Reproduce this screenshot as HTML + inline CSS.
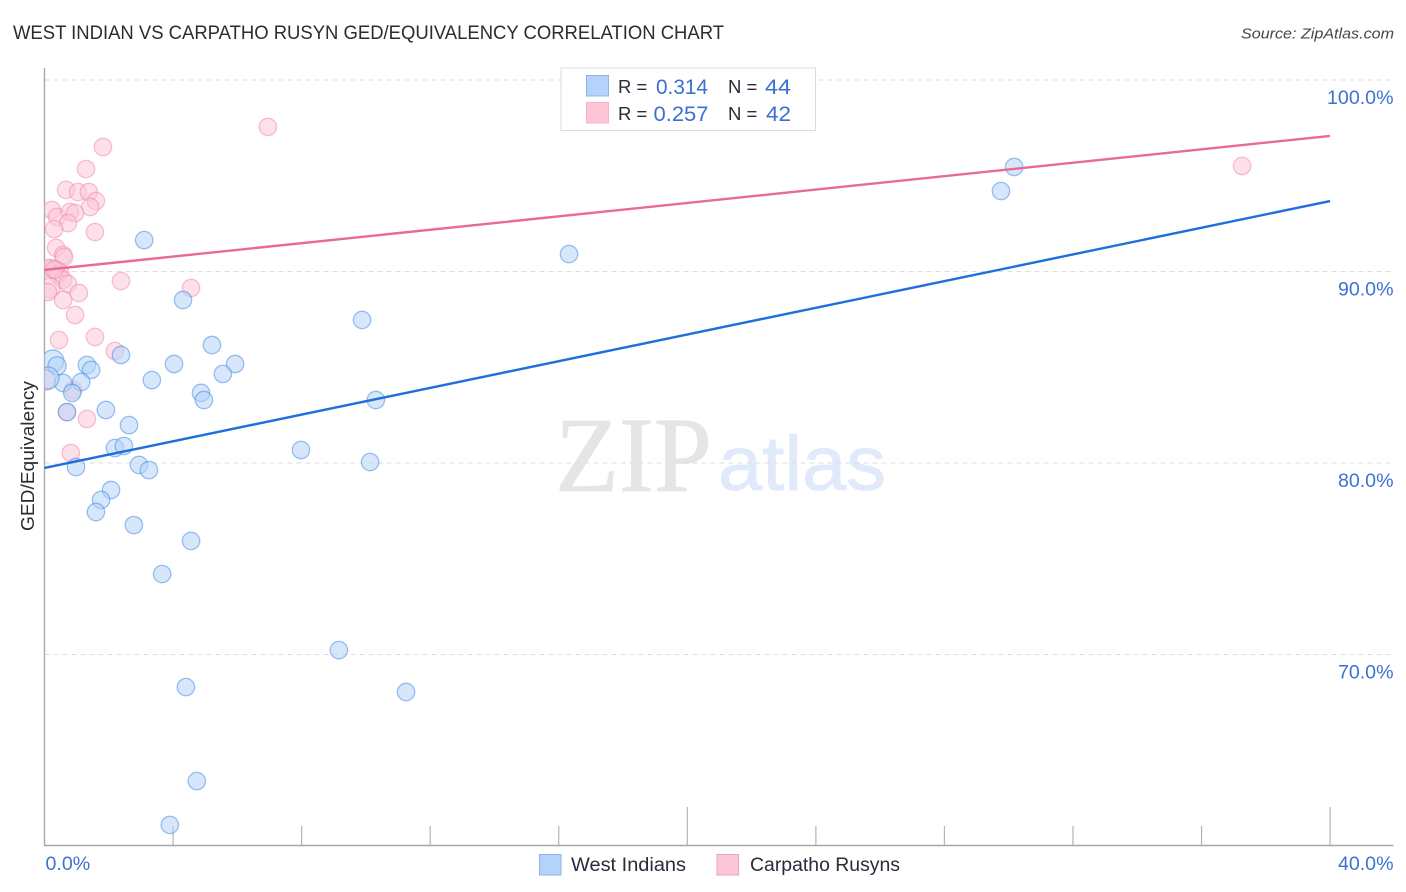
<!DOCTYPE html>
<html lang="en">
<head>
<meta charset="utf-8">
<title>West Indian vs Carpatho Rusyn GED/Equivalency Correlation Chart</title>
<style>
html,body{margin:0;padding:0;background:#fff;}
body{width:1406px;height:892px;overflow:hidden;font-family:"Liberation Sans",sans-serif;}
svg{display:block;}
text{font-family:"Liberation Sans",sans-serif;}
</style>
</head>
<body>
<svg id="chart" width="1406" height="892" viewBox="0 0 1406 892" xmlns="http://www.w3.org/2000/svg">
  <defs>
    <clipPath id="plot-clip"><rect x="44.5" y="60" width="1350" height="785"/></clipPath>
  </defs>
  <rect x="0" y="0" width="1406" height="892" fill="#ffffff"/>
  <text x="13" y="39" font-size="19" fill="#2b2b33" textLength="711" lengthAdjust="spacingAndGlyphs">WEST INDIAN VS CARPATHO RUSYN GED/EQUIVALENCY CORRELATION CHART</text>
  <text x="1394" y="38.5" font-size="15" font-style="italic" fill="#444450" text-anchor="end" textLength="153" lengthAdjust="spacingAndGlyphs">Source: ZipAtlas.com</text>

  <g>
    <text x="555" y="491" font-size="107" fill="#e5e5e5" stroke="#e5e5e5" stroke-width="0.8" textLength="157" lengthAdjust="spacingAndGlyphs" style="font-family:'Liberation Serif',serif">ZIP</text>
    <text x="718" y="490" font-size="77" fill="#e0eafa" stroke="#e0eafa" stroke-width="0.8" textLength="168" lengthAdjust="spacingAndGlyphs">atlas</text>
  </g>

  <g id="grid"></g>
  <g id="axes"></g>
  <g id="marks" clip-path="url(#plot-clip)"></g>
  <g id="trends"></g>

  <text transform="translate(34,456) rotate(-90)" font-size="18" fill="#2b2b33" text-anchor="middle" textLength="150" lengthAdjust="spacingAndGlyphs">GED/Equivalency</text>

  <g>
    <rect x="561" y="68" width="254.5" height="62.5" fill="#ffffff" stroke="#dcdcdc" stroke-width="1"/>
    <rect x="586.5" y="75.5" width="22" height="20.5" fill="#b5d3fa" stroke="#8fb5e6" stroke-width="1"/>
    <rect x="586.5" y="102.5" width="22" height="20.5" fill="#fcc5d8" stroke="#f5b3ca" stroke-width="1"/>
    <text x="618" y="93" font-size="18.5" fill="#2b2b3a">R =</text>
    <text x="656" y="94" font-size="21" fill="#3a70d2" textLength="52" lengthAdjust="spacingAndGlyphs">0.314</text>
    <text x="728" y="93" font-size="18.5" fill="#2b2b3a">N =</text>
    <text x="765" y="94" font-size="21" fill="#3a70d2" textLength="26" lengthAdjust="spacingAndGlyphs">44</text>
    <text x="618" y="120" font-size="18.5" fill="#2b2b3a">R =</text>
    <text x="653.5" y="121" font-size="21" fill="#3a70d2" textLength="55" lengthAdjust="spacingAndGlyphs">0.257</text>
    <text x="728" y="120" font-size="18.5" fill="#2b2b3a">N =</text>
    <text x="766" y="121" font-size="21" fill="#3a70d2" textLength="25" lengthAdjust="spacingAndGlyphs">42</text>
  </g>

  <g>
    <rect x="539.5" y="854.5" width="21.5" height="20.5" fill="#b5d3fa" stroke="#8fb5e6" stroke-width="1"/>
    <text x="571" y="871" font-size="19" fill="#2b2b3a" textLength="115" lengthAdjust="spacingAndGlyphs">West Indians</text>
    <rect x="717" y="854.5" width="21.5" height="20.5" fill="#fcc5d8" stroke="#eaa3bd" stroke-width="1"/>
    <text x="750" y="871" font-size="19" fill="#2b2b3a" textLength="150" lengthAdjust="spacingAndGlyphs">Carpatho Rusyns</text>
  </g>
</svg>

<script>
const blueX = [30.17,29.76,16.32,3.10,4.31,9.88,5.21,2.38,1.32,1.45,4.03,5.93,5.55,3.34,1.14,0.58,4.87,4.96,10.31,0.86,1.91,0.70,2.63,2.19,2.47,7.98,10.13,0.98,2.94,3.25,2.07,1.76,1.60,2.78,4.56,3.66,9.16,4.40,11.25,4.74,3.90,0.26,0.39,0.11];
const blueY = [95.46,94.20,90.91,91.64,88.51,87.47,86.16,85.64,85.12,84.86,85.17,85.17,84.65,84.33,84.23,84.18,83.66,83.29,83.29,83.66,82.77,82.66,81.98,80.78,80.89,80.68,80.05,79.79,79.90,79.63,78.59,78.07,77.44,76.76,75.93,74.20,70.23,68.30,68.04,63.39,61.10,85.33,85.07,84.44];
const blueWeight = [1,1,1,1,1,1,1,1,1,1,1,1,1,1,1,1,1,1,1,1,1,1,1,1,1,1,1,1,1,1,1,1,1,1,1,1,1,1,1,1,1,1.6,1.1,1.6];

const pinkX = [1.82,1.29,6.95,0.67,1.04,1.38,1.60,1.42,0.23,0.39,0.79,0.95,0.73,0.30,1.57,0.36,0.58,0.61,0.23,0.08,0.36,0.48,0.42,0.58,0.73,0.17,0.11,1.07,0.58,0.95,2.38,4.56,0.45,1.57,2.19,0.02,0.89,0.70,1.32,0.82,37.26,0.30];
const pinkY = [96.50,95.35,97.55,94.26,94.15,94.15,93.68,93.37,93.21,92.85,93.11,93.05,92.53,92.22,92.06,91.23,90.86,90.76,90.18,90.18,90.08,89.97,89.82,89.56,89.35,89.14,88.93,88.88,88.51,87.73,89.50,89.14,86.42,86.58,85.85,84.33,83.81,82.66,82.30,80.52,95.51,90.10];
const pinkWeight = [1,1,1,1,1,1,1,1,1,1,1,1,1,1,1,1,1,1,1,1,1,1,1,1,1,1.3,1,1,1,1,1,1,1,1,1,1.4,1,1,1,1,1,1];

const blueTrend = [79.74, 93.68];
const pinkTrend = [90.08, 97.08];
const trendX = [0, 40];

const yTicks = [100, 90, 80, 70];
const yTickLabels = ['100.0%', '90.0%', '80.0%', '70.0%'];
const xMinor = [4, 8, 12, 16, 24, 28, 32, 36];
const xMajor = [20, 40];
const xEndLabels = ['0.0%', '40.0%'];
const xEndValues = [0, 40];

const NS = 'http://www.w3.org/2000/svg';
function xScale(v) { return 44.5 + v * 32.14; }
function yScale(v) { return 80 + (100 - v) * 19.15; }
function make(tag, attrs, parent) {
  const el = document.createElementNS(NS, tag);
  for (const k in attrs) el.setAttribute(k, attrs[k]);
  parent.appendChild(el);
  return el;
}

const grid = document.getElementById('grid');
const axes = document.getElementById('axes');
const marks = document.getElementById('marks');
const trends = document.getElementById('trends');

yTicks.forEach(function (t, i) {
  const line = make('line', {x1: 44.5, x2: 1393, y1: yScale(t), y2: yScale(t), stroke: '#dedede', 'stroke-width': 1, 'stroke-dasharray': '5 4'}, grid);
  
  
  const label = make('text', {x: 1393.5, y: yScale(t) + 24, 'font-size': 19.6, fill: '#3d72d3', 'text-anchor': 'end'}, axes);
  label.textContent = yTickLabels[i];
  
  
});

const yAxis = make('line', {x1: 44.5, x2: 44.5, y1: 68, y2: 845.5, stroke: '#a8a8a8', 'stroke-width': 1.4}, axes);


const xAxis = make('line', {x1: 44, x2: 1393.5, y1: 845.5, y2: 845.5, stroke: '#a8a8a8', 'stroke-width': 1.4}, axes);



xMinor.forEach(function (t) {
  const tick = make('line', {x1: xScale(t), x2: xScale(t), y1: 826, y2: 845, stroke: '#b4b4b4', 'stroke-width': 1.2}, axes);
  
  
});
xMajor.forEach(function (t) {
  const tick = make('line', {x1: xScale(t), x2: xScale(t), y1: 807, y2: 845, stroke: '#b4b4b4', 'stroke-width': 1.2}, axes);
  
  
});
xEndLabels.forEach(function (s, i) {
  const label = make('text', {x: i === 0 ? xScale(xEndValues[i]) + 1 : 1393.5, y: 870, 'font-size': 19.6, fill: '#3d72d3', 'text-anchor': i === 0 ? 'start' : 'end'}, axes);
  label.textContent = s;
  
  
});

function drawSeries(xs, ys, ws, fill, stroke, prefix) {
  xs.forEach(function (x, i) {
    const c = make('circle', {cx: xScale(x), cy: yScale(ys[i]), r: 8.7 * Math.sqrt(ws[i]), fill: fill, 'fill-opacity': 0.55, stroke: stroke, 'stroke-opacity': 0.5, 'stroke-width': 1.3}, marks);
    
    
  });
}
drawSeries(pinkX, pinkY, pinkWeight, '#fbc6d8', '#ee88aa', 'carpatho-rusyns');
drawSeries(blueX, blueY, blueWeight, '#b5d3fa', '#3f86e0', 'west-indians');

const blueLine = make('line', {x1: xScale(trendX[0]), y1: yScale(blueTrend[0]), x2: xScale(trendX[1]), y2: yScale(blueTrend[1]), stroke: '#1f6fdb', 'stroke-width': 2.4}, trends);


const pinkLine = make('line', {x1: xScale(trendX[0]), y1: yScale(pinkTrend[0]), x2: xScale(trendX[1]), y2: yScale(pinkTrend[1]), stroke: '#ea6a96', 'stroke-width': 2.4}, trends);


</script>
</body>
</html>
